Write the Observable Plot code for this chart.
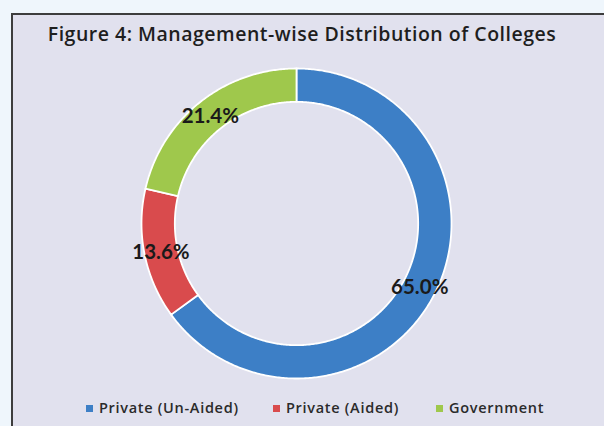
<!DOCTYPE html>
<html>
<head>
<meta charset="utf-8">
<script src="https://cdn.jsdelivr.net/npm/d3@7"></script>
<script src="https://cdn.jsdelivr.net/npm/@observablehq/plot@0.6"></script>
<style>
  html, body { margin: 0; padding: 0; width: 604px; height: 426px; overflow: hidden; background: #eff6fc; }
  #panel { position: absolute; left: 11px; top: 13px; width: 620px; height: 440px; background: #e1e1ee;
           border-left: 2px solid #3d3d3d; border-top: 2px solid #3d3d3d; }
  #chart { position: absolute; left: 0; top: 0; }
  #title { position: absolute; left: 0; top: 20px; width: 604px; text-align: center;
           font: 600 19.5px "Open Sans", sans-serif; letter-spacing: 0.5px; color: #1e1e1e; white-space: nowrap; }
  .leg { position: absolute; font: 600 14.5px "Open Sans", sans-serif; letter-spacing: 0.7px; color: #2a2a2a; white-space: nowrap; line-height: 16px; }
  .sw { position: absolute; width: 7px; height: 7px; }
</style>
</head>
<body>
<div id="panel"></div>
<div id="chart"></div>
<div id="title">Figure 4: Management-wise Distribution of Colleges</div>
<div id="legend"></div>
<script>
const categories = ["Private (Un-Aided)", "Private (Aided)", "Government"];
const values = [65.0, 13.6, 21.4];
const colors = ["#3d7fc6", "#d94b4d", "#9fc84c"];
const legendX = [86, 273, 436];

// Build slice polygons (outer arc then inner arc) from the values
const R = 1, r0 = 0.785;
const total = d3.sum(values);
let acc = 0;
const slices = categories.map((c, i) => {
  const a0 = acc / total * 2 * Math.PI;
  acc += values[i];
  const a1 = acc / total * 2 * Math.PI;
  return {cat: c, a0, a1, value: values[i]};
});
const pts = [];
for (const s of slices) {
  const n = Math.max(8, Math.ceil((s.a1 - s.a0) / 0.01));
  for (let k = 0; k <= n; k++) {
    const a = s.a0 + (s.a1 - s.a0) * k / n;
    pts.push({cat: s.cat, x: R * Math.sin(a), y: R * Math.cos(a)});
  }
  for (let k = n; k >= 0; k--) {
    const a = s.a0 + (s.a1 - s.a0) * k / n;
    pts.push({cat: s.cat, x: r0 * Math.sin(a), y: r0 * Math.cos(a)});
  }
}
const rm = (R + r0) / 2;
const labels = slices.map(s => {
  const m = (s.a0 + s.a1) / 2;
  return {x: rm * Math.sin(m), y: rm * Math.cos(m), text: s.value.toFixed(1) + "%"};
});

// Pixel geometry: center (296,223), outer radius 155px
const W = 604, H = 426, cx = 296, cy = 223, pr = 155;
const plot = Plot.plot({
  width: W, height: H,
  margin: 0,
  style: {background: "transparent", overflow: "visible"},
  x: {domain: [-cx / pr, (W - cx) / pr], axis: null},
  y: {domain: [-(H - cy) / pr, cy / pr], axis: null},
  color: {domain: categories, range: colors},
  marks: [
    Plot.line(pts, {x: "x", y: "y", z: "cat", fill: "cat", stroke: "white", strokeWidth: 1.8, curve: "linear-closed"}),
    Plot.text(labels, {x: "x", y: "y", text: "text", fontSize: 20.5, fontWeight: "bold",
      fontFamily: "Lato, sans-serif", fill: "#1a1a1a", dy: 1})
  ]
});
document.getElementById("chart").append(plot);

const leg = document.getElementById("legend");
categories.forEach((c, i) => {
  const sw = document.createElement("div");
  sw.className = "sw";
  sw.style.left = legendX[i] + "px";
  sw.style.top = "405px";
  sw.style.background = colors[i];
  leg.append(sw);
  const t = document.createElement("div");
  t.className = "leg";
  t.style.left = (legendX[i] + 13) + "px";
  t.style.top = "400px";
  t.textContent = c;
  leg.append(t);
});
</script>
</body>
</html>
